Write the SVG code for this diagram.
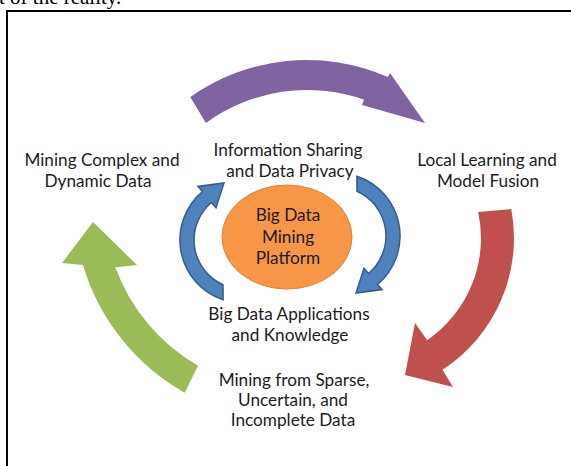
<svg xmlns="http://www.w3.org/2000/svg" width="571" height="466" viewBox="0 0 571 466">
  <style>
    .lbl { font-family: Lato, "Liberation Sans", sans-serif; font-size: 17.2px; fill: #1c1c1c; text-anchor: middle; }
    .blue { fill: #4F81BD; stroke: #385D8A; stroke-width: 1.5; stroke-linejoin: miter; }
  </style>
  <defs>
    <!-- inner cycle arrow: arc around (243,240), head pointing up-right -->
    <path id="blueArc" class="blue" d="M 223.1 299.8 A 63 63 0 0 1 202.5 191.7 L 198 186.4 L 224 183 L 216 207.8 L 211.5 202.5 A 49 49 0 0 0 223 284.7 Z"/>
  </defs>

  <rect width="571" height="466" fill="#ffffff"/>
  <text x="-1" y="4" font-family="'Liberation Serif', serif" font-size="21" fill="#000">t of the reality.</text>
  <path d="M 7 466 V 11 H 571" fill="none" stroke="#000" stroke-width="2"/>

  <g id="connectors">
    <!-- outer cycle -->
    <path id="arrow-top" fill="#8064A2" d="M 190.3 97.1 A 202 202 0 0 1 387.9 76.9 L 390 73 L 425 123 L 362 105 L 364.1 99.8 A 172 172 0 0 0 205.9 122.9 Z"/>
    <path id="arrow-right" fill="#C0504D" d="M 511.3 209.1 A 157 157 0 0 1 442.5 369.7 L 453 387 L 405 375 L 415 323 L 427.2 340.2 A 124 124 0 0 0 478.2 212 Z"/>
    <path id="arrow-left" fill="#9BBB59" d="M 184.7 392.7 A 218 218 0 0 1 83 264.9 L 62 263 L 93 222 L 137 265 L 115.3 267.3 A 188 188 0 0 0 198 365.8 Z"/>
    <!-- inner cycle -->
    <use href="#blueArc"/>
    <use href="#blueArc" transform="rotate(180 290 238)"/>
  </g>

  <g id="platform">
    <ellipse cx="287" cy="237" rx="65" ry="52" fill="#F79646" stroke="#E0823A" stroke-width="1"/>
    <text class="lbl" x="288" y="221">Big Data</text>
    <text class="lbl" x="288" y="243">Mining</text>
    <text class="lbl" x="288" y="264">Platform</text>
  </g>

  <g id="sharing">
    <text class="lbl" x="288" y="156">Information Sharing</text>
    <text class="lbl" x="290" y="177">and Data Privacy</text>
  </g>

  <g id="applications">
    <text class="lbl" x="289" y="320">Big Data Applications</text>
    <text class="lbl" x="290" y="341">and Knowledge</text>
  </g>

  <g id="local">
    <text class="lbl" x="487" y="166">Local Learning and</text>
    <text class="lbl" x="488" y="187">Model Fusion</text>
  </g>

  <g id="complex">
    <text class="lbl" x="102" y="166">Mining Complex and</text>
    <text class="lbl" x="98" y="187">Dynamic Data</text>
  </g>

  <g id="sparse">
    <text class="lbl" x="294" y="386">Mining from Sparse,</text>
    <text class="lbl" x="293" y="406">Uncertain, and</text>
    <text class="lbl" x="293" y="426">Incomplete Data</text>
  </g>
</svg>
